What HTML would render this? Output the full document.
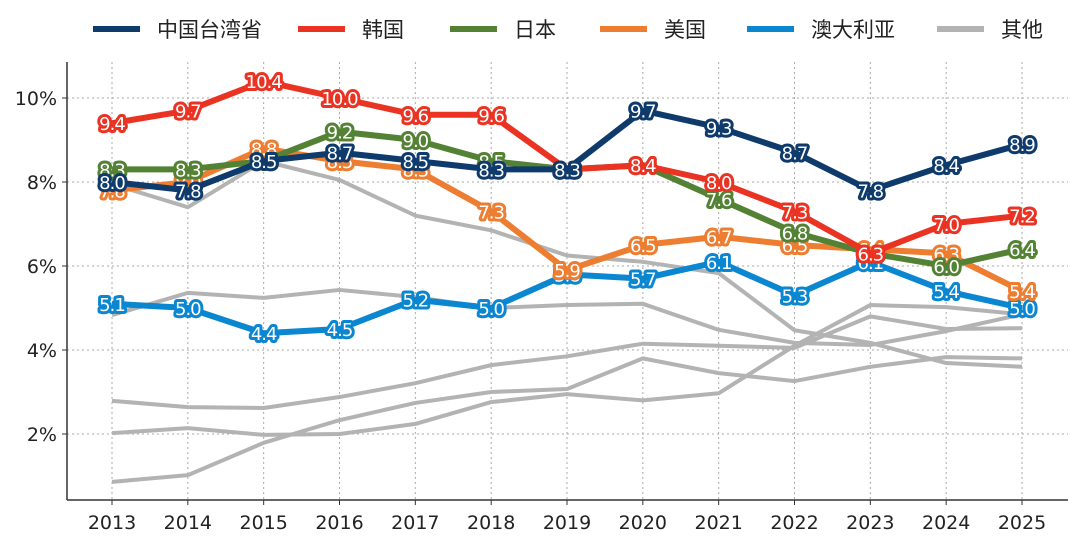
<!DOCTYPE html>
<html><head><meta charset="utf-8"><style>
body{margin:0;background:#fff;}
svg{display:block;font-family:"DejaVu Sans","Liberation Sans","Noto Sans CJK SC",sans-serif;}
</style></head><body>
<svg id="c" width="1080" height="547"></svg>
<script>
const years=[2013,2014,2015,2016,2017,2018,2019,2020,2021,2022,2023,2024,2025];
const yTicks=[2,4,6,8,10];
const grayA=[7.95,7.4,8.5,8.05,7.2,6.85,6.25,6.1,5.83,4.47,4.17,3.69,3.6];
const grayB=[4.83,5.36,5.24,5.43,5.26,5.0,5.07,5.1,4.48,4.17,4.12,4.45,4.85];
const grayC=[2.79,2.64,2.62,2.88,3.21,3.64,3.85,4.15,4.1,4.05,4.8,4.5,4.52];
const grayD=[2.02,2.14,1.98,2.0,2.24,2.76,2.95,2.8,2.97,4.1,5.07,5.02,4.85];
const grayE=[0.86,1.02,1.79,2.33,2.74,3.0,3.07,3.8,3.45,3.26,3.6,3.83,3.8];
const taiwan=[8.0,7.8,8.5,8.7,8.5,8.3,8.3,9.7,9.3,8.7,7.8,8.4,8.9];
const korea=[9.4,9.7,10.4,10.0,9.6,9.6,8.3,8.4,8.0,7.3,6.3,7.0,7.2];
const japan=[8.3,8.3,8.5,9.2,9.0,8.5,8.3,8.4,7.6,6.8,6.3,6.0,6.4];
const usa=[7.8,8.0,8.8,8.5,8.3,7.3,5.9,6.5,6.7,6.5,6.4,6.3,5.4];
const australia=[5.1,5.0,4.4,4.5,5.2,5.0,5.8,5.7,6.1,5.3,6.1,5.4,5.0];
const seriesNames=["中国台湾省","韩国","日本","美国","澳大利亚","其他"];

const NS="http://www.w3.org/2000/svg";
const svg=document.getElementById('c');
const X=i=>112+i*(1022-112)/(years.length-1);
const Y=v=>518-v*42;
function mk(t,a,p){const e=document.createElementNS(NS,t);for(const k in a)e.setAttribute(k,a[k]);(p||svg).appendChild(e);return e;}
years.forEach((yr,i)=>{const l=mk('line',{x1:X(i),x2:X(i),y1:62,y2:500,stroke:'#aaa','stroke-dasharray':'2,3','stroke-width':1});


const t=mk('text',{x:X(i),y:529,'text-anchor':'middle','font-size':19,fill:'#222'});t.textContent=yr;


mk('line',{x1:X(i),x2:X(i),y1:500,y2:505,stroke:'#333'});});
yTicks.forEach(v=>{const l=mk('line',{x1:67,x2:1068,y1:Y(v),y2:Y(v),stroke:'#aaa','stroke-dasharray':'2,3','stroke-width':1});


mk('line',{x1:62,x2:67,y1:Y(v),y2:Y(v),stroke:'#333'});
const t=mk('text',{x:57,y:Y(v)+7,'text-anchor':'end','font-size':19,fill:'#222'});t.textContent=v+'%';

});
const ax=mk('line',{x1:67,x2:67,y1:62,y2:500,stroke:'#333','stroke-width':1.5});


const bx=mk('line',{x1:67,x2:1068,y1:500,y2:500,stroke:'#333','stroke-width':1.5});


function line(vals,color,w,name){const p=mk('polyline',{points:vals.map((v,i)=>X(i)+','+Y(v)).join(' '),fill:'none',stroke:color,'stroke-width':w,'stroke-linejoin':'round'});

}
[grayA,grayB,grayC,grayD,grayE].forEach((s,k)=>line(s,'#b3b3b3',4,'other-line-'+(k+1)));
const main=[[australia,'#0b86d1','australia'],[usa,'#ed7d31','usa'],[japan,'#548235','japan'],[korea,'#ea3323','korea'],[taiwan,'#0e3a6c','taiwan']];
main.forEach(([s,c,n])=>{line(s,c,6,n+'-line');
s.forEach((v,i)=>{const t=mk('text',{x:X(i),y:Y(v)+7,'text-anchor':'middle','font-size':18,'letter-spacing':'-1',fill:'#fff',stroke:c,'stroke-width':6,'paint-order':'stroke','stroke-linejoin':'round'});t.textContent=v.toFixed(1);

});});
const legColors=['#0e3a6c','#ea3323','#548235','#ed7d31','#0b86d1','#b3b3b3'];
const legX=[93,298,450,600,747,937];
seriesNames.forEach((n,i)=>{const g=mk('g',{});


mk('line',{x1:legX[i],x2:legX[i]+47,y1:29,y2:29,stroke:legColors[i],'stroke-width':6},g);
const t=mk('text',{x:legX[i]+64,y:37,'font-size':21,fill:'#222'},g);t.textContent=n;});
</script>
</body></html>
